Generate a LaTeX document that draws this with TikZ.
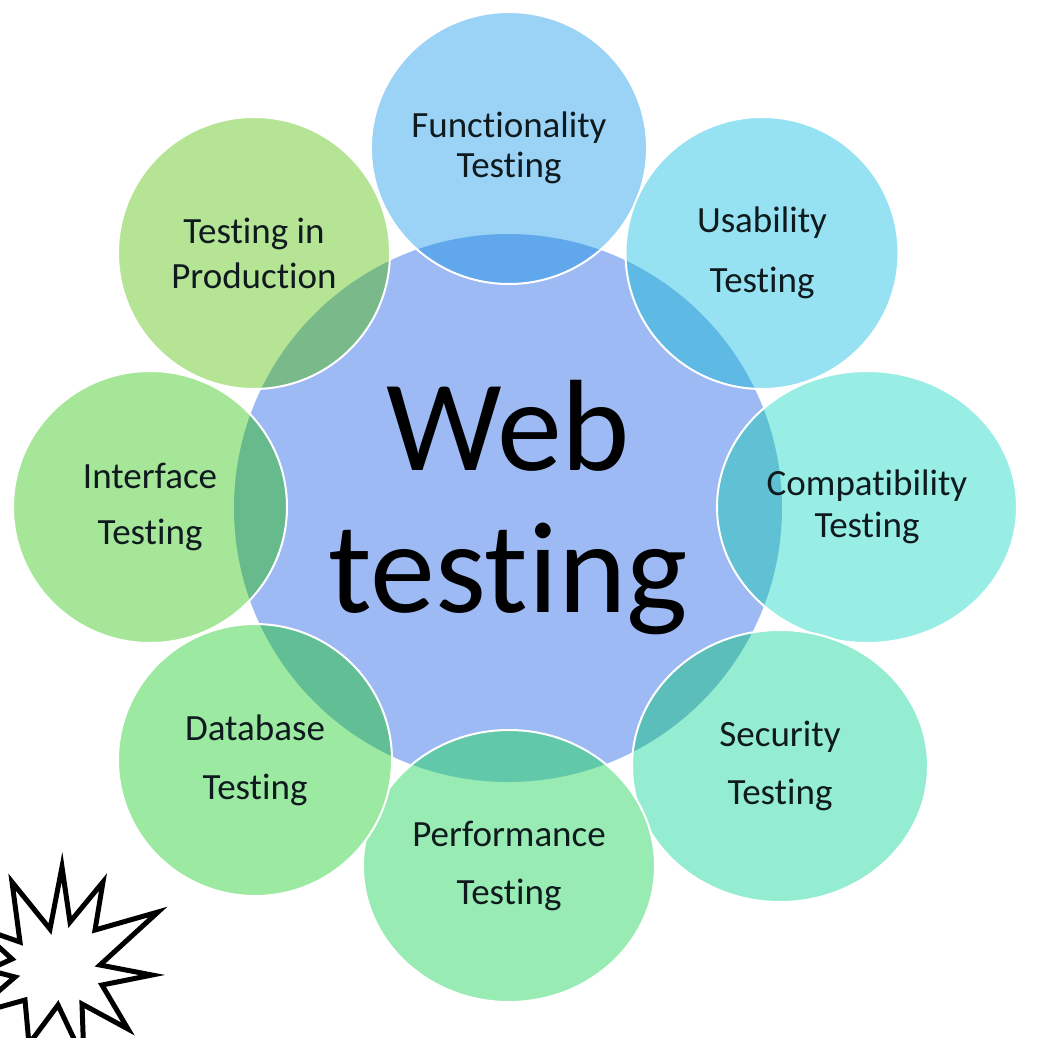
\documentclass[tikz,border=0pt]{standalone}
\usepackage{fontspec}
\setmainfont{Carlito}[Ligatures=NoCommon]
\usetikzlibrary{shapes.geometric}

\definecolor{bg-web}{RGB}{157,186,245}
\definecolor{bg-func}{RGB}{155,211,246}
\definecolor{bg-usab}{RGB}{150,226,242}
\definecolor{bg-compat}{RGB}{152,237,228}
\definecolor{bg-secur}{RGB}{148,237,208}
\definecolor{bg-perf}{RGB}{152,235,178}
\definecolor{bg-datab}{RGB}{156,233,162}
\definecolor{bg-interf}{RGB}{166,230,153}
\definecolor{bg-prod}{RGB}{181,228,149}
\definecolor{ov-func}{RGB}{96,167,236}
\definecolor{ov-usab}{RGB}{94,186,228}
\definecolor{ov-compat}{RGB}{96,192,212}
\definecolor{ov-secur}{RGB}{92,190,186}
\definecolor{ov-perf}{RGB}{98,200,170}
\definecolor{ov-datab}{RGB}{98,190,148}
\definecolor{ov-interf}{RGB}{102,186,140}
\definecolor{ov-prod}{RGB}{122,186,138}
\definecolor{labeltext}{RGB}{14,26,30}

\tikzset{
	bubble/.style={ellipse, draw=white, line width=2pt, inner sep=0pt, minimum height=272pt, align=center, text=labeltext, font=\fontsize{37}{40}\selectfont},
}

\begin{document}
\begin{tikzpicture}[x=1pt, y=-1pt]
	\useasboundingbox (0,0) rectangle (1045,1037);
	\fill[white] (0,0) rectangle (1045,1037);
	\node[circle, fill=bg-web, minimum size=548pt, inner sep=0pt, align=center, font=\fontsize{130}{142}\selectfont] (web) at (508,508) {Web\\testing};
	\foreach \nm/\px/\py/\w/\txt in {
		func/509/148/272/{Functionality\\Testing},
		usab/762/253/273/{Usability\\[20pt]Testing},
		compat/867/507/300/{Compatibility\\[2pt]Testing},
		secur/780/766/296/{Security\\[18pt]Testing},
		perf/509/866/292/{Performance\\[18pt]Testing},
		datab/255/760/274/{Database\\[19pt]Testing},
		interf/150/507/274/{Interface\\[16pt]Testing},
		prod/254/253/272/{Testing in\\[5pt]Production}}
		\node[bubble, fill=bg-\nm, minimum width=\w pt, path picture={\fill[ov-\nm] (web.center) circle[radius=274pt];}] (\nm) at (\px,\py) {\txt};
	\begin{scope}
		\clip (0,0) rectangle (1045,1037);
		\draw[line width=5pt, fill=white] (62,867) -- (70,922) -- (103,882) -- (95,930) -- (158,912) -- (100,965) -- (152,975) -- (102,985) -- (128,1029) -- (82,1004) -- (84,1060) -- (58,1005) -- (29,1044) -- (25,1000) -- (-29,1015) -- (15,977) -- (-12,970) -- (12,959) -- (-23,927) -- (20,942) -- (12,882) -- (50,929) -- cycle;
	\end{scope}
\end{tikzpicture}
\end{document}
